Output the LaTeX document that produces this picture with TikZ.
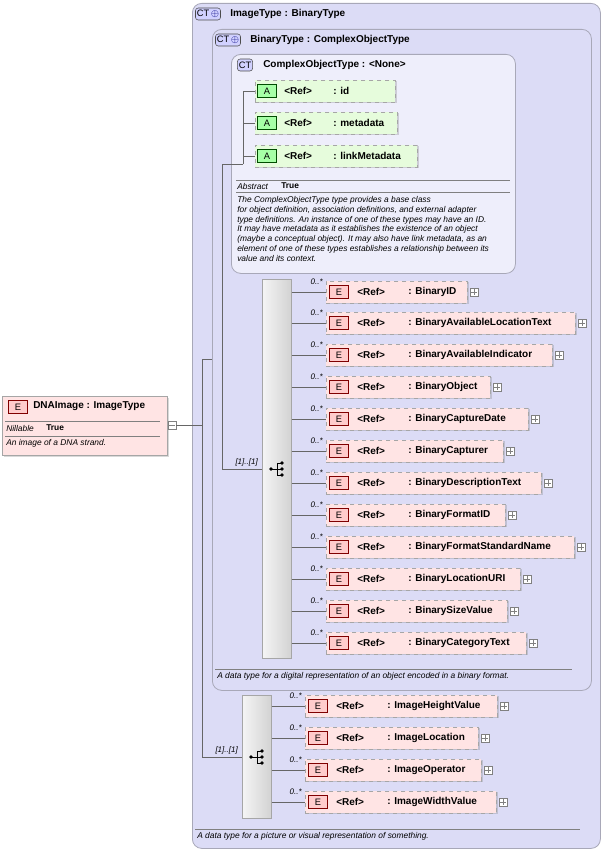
\documentclass[tikz,border=0pt]{standalone}
\usepackage{fontspec}
\setmainfont{Liberation Sans}
\usetikzlibrary{shadows}
\definecolor{lav}{HTML}{DCDCF6}
\definecolor{lavl}{HTML}{EEEEFB}
\definecolor{bord}{HTML}{A8A8B8}
\definecolor{pinkf}{HTML}{FFE4E4}
\definecolor{greenf}{HTML}{E6FCDC}
\tikzset{x=0.75pt,y=-0.75pt,
 ctbox/.style={draw=bord,rounded corners=7pt,line width=0.6pt},
 badge/.style={draw=black!70,fill=blue!18,rounded corners=2pt,inner sep=1pt,minimum height=9pt,font=\fontsize{7}{8}\selectfont},
 title/.style={anchor=west,font=\fontsize{7.5}{9}\selectfont\bfseries,inner sep=0},
 ebox/.style={draw=gray!70,dashed,fill=pinkf,minimum height=16.5pt,inner sep=0,anchor=west,drop shadow={shadow xshift=1pt,shadow yshift=-1pt,opacity=0.3}},
 abox/.style={draw=gray!70,dashed,fill=greenf,minimum height=16.5pt,inner sep=0,anchor=west,drop shadow={shadow xshift=1pt,shadow yshift=-1pt,opacity=0.3}},
 eicon/.style={draw=red!50!black,fill=red!20,minimum width=14pt,minimum height=10pt,inner sep=0,font=\fontsize{7}{8}\selectfont},
 aicon/.style={draw=green!30!black,fill=green!35,minimum width=14pt,minimum height=10pt,inner sep=0,font=\fontsize{7}{8}\selectfont},
 etext/.style={anchor=west,inner sep=0,font=\fontsize{7.5}{9}\selectfont\bfseries},
 mult/.style={anchor=east,inner sep=0,font=\fontsize{6}{7}\selectfont\itshape},
 plus/.style={draw=gray,fill=white,minimum size=6pt,inner sep=0},
 desc/.style={anchor=north west,inner sep=0,font=\fontsize{6.3}{7.4}\selectfont\itshape,align=left},
 seq/.style={draw=gray!70,left color=gray!8,right color=gray!35,anchor=north west,inner sep=0},
 conn/.style={draw=gray!80!black,line width=0.4pt}}
\newcommand\myel[5]{%
 \node[ebox,minimum width={(#4-#2)*0.75pt}] (#1) at (#2,#3) {};
 \node[eicon] (#1i) at (#2+13,#3) {E};
 \node[etext] (#1r) at (#2+31,#3) {\textless Ref\textgreater};
 \node[etext] (#1n) at (#2+82,#3) {: #5};
 \node[plus] (#1p) at (#4+7,#3) {};
 \draw[gray] ([xshift=-2pt]#1p.center) -- ([xshift=2pt]#1p.center) ([yshift=-2pt]#1p.center) -- ([yshift=2pt]#1p.center);
 \node[mult] (#1m) at (#2-3,#3-10) {0..*};}
\newcommand\myat[4]{%
 \node[abox,minimum width={(#4-#2)*0.75pt}] (#1) at (#2,#3) {};
 \node[aicon] (#1i) at (#2+12,#3) {A};
 \node[etext] (#1r) at (#2+29,#3) {\textless Ref\textgreater};
 \node[etext] (#1n) at (#2+78,#3) {: \detokenize{#1}};}
\newcommand\mysqicon[2]{%
 \fill (#1-6,#2) circle (1.4pt);
 \draw (#1-6,#2) -- (#1,#2) (#1,#2-6) -- (#1,#2+6) (#1,#2-6) -- (#1+5,#2-6) (#1,#2) -- (#1+5,#2) (#1,#2+6) -- (#1+5,#2+6);
 \fill (#1+5,#2-6) circle (1.4pt) (#1+5,#2) circle (1.4pt) (#1+5,#2+6) circle (1.4pt);}
\begin{document}
\begin{tikzpicture}
\useasboundingbox (0,0) rectangle (603,852);
% outer boxes
\node[ctbox,fill=lav,minimum width={408*0.75pt},minimum height={845*0.75pt},anchor=north west,inner sep=0] (img) at (192,3) {};
\node[badge] (imgb) at (208,14) {CT\,\textcolor{blue!50!black}{$\oplus$}};
\node[title] (imgt) at (230,14) {ImageType : BinaryType};
\node[ctbox,fill=lav,minimum width={379*0.75pt},minimum height={661*0.75pt},anchor=north west,inner sep=0] (bin) at (212,29) {};
\node[badge] (binb) at (228,40) {CT\,\textcolor{blue!50!black}{$\oplus$}};
\node[title] (bint) at (250,40) {BinaryType : ComplexObjectType};
\node[ctbox,fill=lavl,minimum width={284*0.75pt},minimum height={219*0.75pt},anchor=north west,inner sep=0] (cot) at (231,54) {};
\node[badge] (cotb) at (245,65) {CT};
\node[title] (cott) at (263,65) {ComplexObjectType : <None>};
% attributes
\myat{id}{255}{91}{395}
\myat{metadata}{255}{123}{397}
\myat{linkMetadata}{255}{156}{417}
\coordinate (ca) at (243,164);
\draw[conn] (id.west) -- (243,91) -- (ca);
\draw[conn] (metadata.west) -- (243,123);
\draw[conn] (linkMetadata.west) -- (243,156);
\draw[gray] (236,180) -- (510,180) (236,192) -- (510,192);
\node[anchor=west,inner sep=0,font=\fontsize{6.3}{7}\selectfont\itshape] (abs) at (237,186) {Abstract};
\node[anchor=west,inner sep=0,font=\fontsize{6.3}{7}\selectfont\bfseries] (abst) at (281,186) {True};
\node[desc] (cotd) at (237,196) {The ComplexObjectType type provides a base class\\for object definition, association definitions, and external adapter\\type definitions. An instance of one of these types may have an ID.\\It may have metadata as it establishes the existence of an object\\(maybe a conceptual object). It may also have link metadata, as an\\element of one of these types establishes a relationship between its\\value and its context.};
% sequence 1
\node[seq,minimum width={29*0.75pt},minimum height={379*0.75pt}] (s1) at (262,279) {};
\mysqicon{277}{469}
\node[mult,anchor=east] (s1m) at (258,462) {[1]..[1]};
\draw[conn] (ca) -- (222,164) -- (222,469) -- (s1.west |- 0,469);
\foreach \nm/\y/\r/\lab in {a/292/467/BinaryID,b/323/575/BinaryAvailableLocationText,c/355/552/BinaryAvailableIndicator,d/387/490/BinaryObject,e/419/528/BinaryCaptureDate,f/451/503/BinaryCapturer,g/483/541/BinaryDescriptionText,h/515/505/BinaryFormatID,i/547/574/BinaryFormatStandardName,j/579/520/BinaryLocationURI,k/611/507/BinarySizeValue,l/643/526/BinaryCategoryText}{
 \myel{e\nm}{326}{\y}{\r}{\lab}
 \draw[conn] (s1.east |- e\nm.west) -- (e\nm.west);}
\draw[gray] (215,669) -- (572,669);
\node[desc] (bind) at (217,672) {A data type for a digital representation of an object encoded in a binary format.};
% sequence 2
\node[seq,minimum width={29*0.75pt},minimum height={123*0.75pt}] (s2) at (242,695) {};
\mysqicon{257}{757}
\node[mult,anchor=east] (s2m) at (238,750) {[1]..[1]};
\foreach \nm/\y/\r/\lab in {a/706/497/ImageHeightValue,b/738/478/ImageLocation,c/770/481/ImageOperator,d/802/496/ImageWidthValue}{
 \myel{f\nm}{305}{\y}{\r}{\lab}
 \draw[conn] (s2.east |- f\nm.west) -- (f\nm.west);}
\draw[gray] (195,829) -- (580,829);
\node[desc] (imgd) at (197,832) {A data type for a picture or visual representation of something.};
% DNAImage
\node[draw=gray!70,fill=pinkf,minimum width={165*0.75pt},minimum height={59*0.75pt},anchor=north west,inner sep=0,drop shadow={shadow xshift=1pt,shadow yshift=-1pt,opacity=0.3}] (dna) at (2,396) {};
\node[eicon] (dnai) at (18,407) {E};
\node[title] (dnat) at (33,406) {DNAImage : ImageType};
\draw[gray] (5,421) -- (160,421) (5,436) -- (160,436);
\node[anchor=west,inner sep=0,font=\fontsize{6.3}{7}\selectfont\itshape] (nil) at (6,428) {Nillable};
\node[anchor=west,inner sep=0,font=\fontsize{6.3}{7}\selectfont\bfseries] (nilt) at (46,428) {True};
\node[desc] (dnad) at (6,439) {An image of a DNA strand.};
\node[plus] (dnam) at (172,425) {};
\draw[gray] ([xshift=-2pt]dnam.center) -- ([xshift=2pt]dnam.center);
\coordinate (j) at (202,425);
\draw[conn] (dnam.east) -- (j);
\draw[conn] (202,359) -- (202,757) -- (s2.west |- 0,757);
\draw[conn] (202,359) -- (212,359);
\end{tikzpicture}
\end{document}
